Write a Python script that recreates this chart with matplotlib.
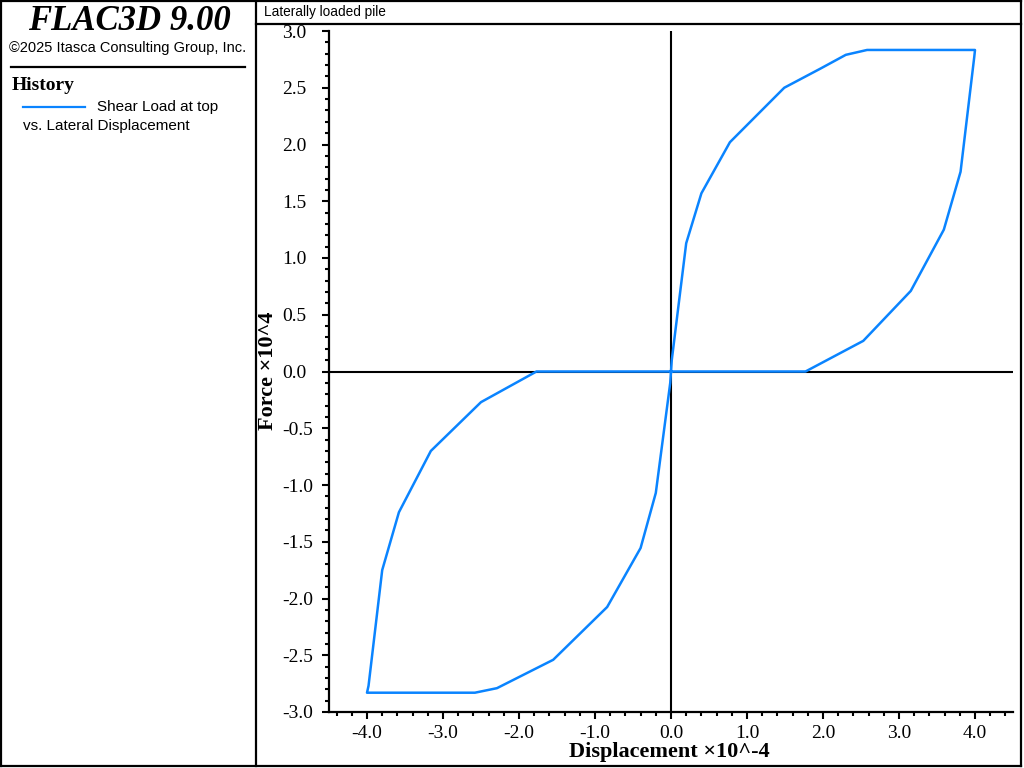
import numpy as np
import matplotlib.pyplot as plt
from matplotlib.lines import Line2D
from matplotlib.ticker import MultipleLocator, FormatStrFormatter

plt.rcParams['axes.unicode_minus'] = False

# hysteresis loop: shear load at top vs lateral displacement (x10^-4, x10^4)
displacement = [0.0, 0.01, 0.20, 0.40, 0.775, 1.49, 1.97, 2.30, 2.58, 4.00,
                3.99, 3.81, 3.59, 3.155, 2.53, 1.77,
                -1.77, -2.50, -3.16, -3.58, -3.80, -3.98, -4.00,
                -2.58, -2.29, -1.55, -0.84, -0.40, -0.20, -0.01, 0.0]
force = [0.0, 0.10, 1.13, 1.57, 2.02, 2.50, 2.67, 2.79, 2.833, 2.833,
         2.77, 1.76, 1.25, 0.71, 0.27, 0.0,
         0.0, -0.27, -0.70, -1.24, -1.75, -2.77, -2.83,
         -2.83, -2.79, -2.54, -2.075, -1.555, -1.07, -0.10, 0.0]

W, H = 1024, 768
serif = 'Liberation Serif'
sans = 'Liberation Sans'
blue = '#0a84ff'


def px(x, y):
    return x / W, 1 - y / H


fig = plt.figure(figsize=(10.24, 7.68), dpi=100)

# panel borders
for (x0, y0), (x1, y1) in [((1, 0.5), (1, 766)), ((256, 0.5), (256, 766)),
                           ((1021, 0.5), (1021, 766)), ((1, 766), (1021, 766)),
                           ((1, 0.5), (1021, 0.5)), ((256, 23.5), (1021, 23.5))]:
    a, b = px(x0, y0)
    c, d = px(x1, y1)
    fig.add_artist(Line2D([a, c], [b, d], color='black', lw=1.6))

# left info panel
fig.text(*px(129, 22), 'FLAC3D 9.00', family=serif, weight='bold', style='italic',
         fontsize=25, ha='center', va='center')
fig.text(*px(128, 48), '\u00a92025 Itasca Consulting Group, Inc.', family=sans,
         fontsize=10.5, ha='center', va='center')
a, b = px(11, 67)
c, d = px(245, 67)
fig.add_artist(Line2D([a, c], [b, d], color='black', lw=1.6))
fig.text(*px(12, 86), 'History', family=serif, weight='bold', fontsize=14,
         ha='left', va='center')
a, b = px(23, 107)
c, d = px(85, 107)
fig.add_artist(Line2D([a, c], [b, d], color=blue, lw=1.6))
fig.text(*px(97, 107), 'Shear Load at top', family=sans, fontsize=11,
         ha='left', va='center')
fig.text(*px(23, 126), 'vs. Lateral Displacement', family=sans, fontsize=11,
         ha='left', va='center')
fig.text(*px(264, 12), 'Laterally loaded pile', family=sans, fontsize=9.8,
         ha='left', va='center')

# plot area
ax = fig.add_axes([329 / W, 1 - 712 / H, (1013 - 329) / W, (712 - 31) / H])
ax.axhline(0, color='black', lw=1.5, zorder=1)
ax.axvline(0, color='black', lw=1.5, zorder=1)
ax.plot(displacement, force, color=blue, lw=1.8, zorder=2)

ax.set_xlim(-4.5, 4.5)
ax.set_ylim(-3.0, 3.0)
ax.xaxis.set_major_locator(MultipleLocator(1.0))
ax.xaxis.set_minor_locator(MultipleLocator(0.2))
ax.yaxis.set_major_locator(MultipleLocator(0.5))
ax.yaxis.set_minor_locator(MultipleLocator(0.1))
ax.xaxis.set_major_formatter(FormatStrFormatter('%.1f'))
ax.yaxis.set_major_formatter(FormatStrFormatter('%.1f'))
ax.set_xticks([-4, -3, -2, -1, 0, 1, 2, 3, 4])

for s in ['top', 'right']:
    ax.spines[s].set_visible(False)
for s in ['left', 'bottom']:
    ax.spines[s].set_linewidth(1.6)

ax.tick_params(which='major', direction='out', length=5, width=1.5)
ax.tick_params(which='minor', direction='out', length=3, width=1.5)
ax.tick_params(axis='x', pad=4, labelsize=14)
ax.tick_params(axis='y', pad=29, labelsize=14)
for lab in ax.get_xticklabels() + ax.get_yticklabels():
    lab.set_family(serif)
for lab in ax.get_yticklabels():
    lab.set_horizontalalignment('left')

fig.text(*px(669, 752), 'Displacement \u00d710^-4', family=serif, weight='bold',
         fontsize=16, ha='center', va='center')
fig.text(*px(268, 371), 'Force \u00d710^4', family=serif, weight='bold',
         fontsize=16, ha='center', va='center', rotation=90)

fig.savefig('out.png', dpi=100)
